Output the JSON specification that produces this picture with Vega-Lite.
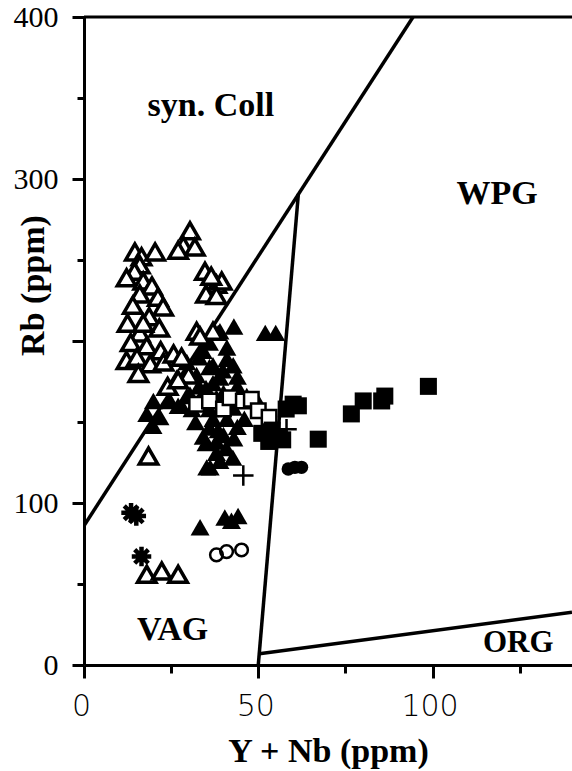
{
  "$schema": "https://vega.github.io/schema/vega-lite/v6.json",
  "width": 488,
  "height": 648,
  "autosize": {"type": "none"},
  "padding": {"left": 84, "top": 17, "right": 0, "bottom": 106},
  "background": "white",
  "view": {"stroke": null},
  "config": {
    "axis": {
      "grid": false,
      "domainColor": "black",
      "domainWidth": 3,
      "tickColor": "black",
      "tickWidth": 3,
      "labelColor": "black",
      "titleColor": "black",
      "labelFlush": false,
      "labelOverlap": false
    }
  },
  "datasets": {
    "pts": [
      {"x": 14.6, "rb": 255, "g": "ot"}, {"x": 16.5, "rb": 252, "g": "ot"}, {"x": 20.4, "rb": 255, "g": "ot"},
      {"x": 16, "rb": 247, "g": "ot"}, {"x": 14.5, "rb": 243, "g": "ot"}, {"x": 12.2, "rb": 239, "g": "ot"},
      {"x": 17, "rb": 237, "g": "ot"}, {"x": 19.5, "rb": 234, "g": "ot"}, {"x": 16, "rb": 229, "g": "ot"},
      {"x": 21.2, "rb": 227, "g": "ot"}, {"x": 22.7, "rb": 221, "g": "ot"}, {"x": 14, "rb": 222, "g": "ot"},
      {"x": 12.5, "rb": 211, "g": "ot"}, {"x": 18.7, "rb": 215, "g": "ot"}, {"x": 21.6, "rb": 208, "g": "ot"},
      {"x": 16, "rb": 205, "g": "ot"}, {"x": 13.4, "rb": 199, "g": "ot"}, {"x": 18, "rb": 197, "g": "ot"},
      {"x": 22, "rb": 194, "g": "ot"}, {"x": 12.2, "rb": 188, "g": "ot"}, {"x": 15.2, "rb": 190, "g": "ot"},
      {"x": 19, "rb": 186, "g": "ot"}, {"x": 15.6, "rb": 180, "g": "ot"}, {"x": 22.8, "rb": 187, "g": "ot"},
      {"x": 25.7, "rb": 192, "g": "ot"}, {"x": 17, "rb": 211, "g": "ot"},
      {"x": 30.4, "rb": 268, "g": "ot"}, {"x": 28.5, "rb": 259, "g": "ot"}, {"x": 31.8, "rb": 258, "g": "ot"},
      {"x": 27, "rb": 256, "g": "ot"},
      {"x": 34.7, "rb": 243, "g": "ot"}, {"x": 38, "rb": 235, "g": "ot"}, {"x": 39.5, "rb": 237, "g": "ot"},
      {"x": 35, "rb": 229, "g": "ot"}, {"x": 38, "rb": 228, "g": "ot"}, {"x": 36.5, "rb": 240, "g": "ot"},
      {"x": 32.3, "rb": 206, "g": "ot"}, {"x": 37, "rb": 206, "g": "ot"}, {"x": 28, "rb": 190, "g": "ot"},
      {"x": 33.3, "rb": 203, "g": "ot"}, {"x": 30, "rb": 179, "g": "ot"}, {"x": 24, "rb": 172, "g": "ot"},
      {"x": 27, "rb": 176, "g": "ot"},
      {"x": 18.5, "rb": 129, "g": "ot"}, {"x": 18, "rb": 56, "g": "ot"}, {"x": 22.3, "rb": 58, "g": "ot"},
      {"x": 27, "rb": 56, "g": "ot"},

      {"x": 39, "rb": 206, "g": "ft"}, {"x": 41, "rb": 196, "g": "ft"}, {"x": 34.2, "rb": 194, "g": "ft"},
      {"x": 37, "rb": 185, "g": "ft"}, {"x": 42.8, "rb": 185, "g": "ft"}, {"x": 29.5, "rb": 187, "g": "ft"},
      {"x": 26.6, "rb": 177.5, "g": "ft"}, {"x": 32.3, "rb": 179, "g": "ft"}, {"x": 39, "rb": 177.5, "g": "ft"},
      {"x": 35, "rb": 171, "g": "ft"}, {"x": 30.4, "rb": 167, "g": "ft"}, {"x": 24.7, "rb": 163, "g": "ft"},
      {"x": 19.9, "rb": 163, "g": "ft"}, {"x": 18, "rb": 155, "g": "ft"}, {"x": 21.8, "rb": 153, "g": "ft"},
      {"x": 38.5, "rb": 205, "g": "ft"}, {"x": 36, "rb": 184, "g": "ft"}, {"x": 39.8, "rb": 182, "g": "ft"},
      {"x": 37, "rb": 174, "g": "ft"}, {"x": 29.5, "rb": 166, "g": "ft"}, {"x": 35.2, "rb": 166, "g": "ft"},
      {"x": 46.7, "rb": 166, "g": "ft"}, {"x": 49.5, "rb": 164, "g": "ft"}, {"x": 42.8, "rb": 159, "g": "ft"},
      {"x": 36, "rb": 146.6, "g": "ft"}, {"x": 34.2, "rb": 141, "g": "ft"}, {"x": 38, "rb": 138, "g": "ft"},
      {"x": 40.8, "rb": 134, "g": "ft"}, {"x": 39, "rb": 126, "g": "ft"}, {"x": 36.2, "rb": 122, "g": "ft"},
      {"x": 42.7, "rb": 128, "g": "ft"}, {"x": 19.8, "rb": 147.6, "g": "ft"}, {"x": 35.2, "rb": 122, "g": "ft"},
      {"x": 38, "rb": 131, "g": "ft"}, {"x": 35, "rb": 137, "g": "ft"}, {"x": 38.5, "rb": 145, "g": "ft"},
      {"x": 33.3, "rb": 85, "g": "ft"}, {"x": 40.4, "rb": 91, "g": "ft"}, {"x": 42.3, "rb": 89, "g": "ft"},
      {"x": 44.2, "rb": 92, "g": "ft"}, {"x": 52, "rb": 205, "g": "ft"}, {"x": 55, "rb": 205, "g": "ft"},
      {"x": 43, "rb": 209, "g": "ft"}, {"x": 33, "rb": 172, "g": "ft"}, {"x": 27, "rb": 160, "g": "ft"},
      {"x": 31, "rb": 158, "g": "ft"}, {"x": 44, "rb": 172, "g": "ft"}, {"x": 40, "rb": 168, "g": "ft"},
      {"x": 36, "rb": 158, "g": "ft"}, {"x": 32, "rb": 150, "g": "ft"}, {"x": 28, "rb": 160, "g": "ft"},
      {"x": 33, "rb": 190, "g": "ft"}, {"x": 36, "rb": 199, "g": "ft"}, {"x": 41, "rb": 189, "g": "ft"},
      {"x": 44, "rb": 178, "g": "ft"}, {"x": 38, "rb": 165, "g": "ft"}, {"x": 41, "rb": 152, "g": "ft"},
      {"x": 37, "rb": 152, "g": "ft"}, {"x": 44, "rb": 147, "g": "ft"}, {"x": 43, "rb": 140, "g": "ft"},
      {"x": 40, "rb": 142, "g": "ft"}, {"x": 46, "rb": 152, "g": "ft"},

      {"x": 32.3, "rb": 161, "g": "os"}, {"x": 36, "rb": 163, "g": "os"}, {"x": 40, "rb": 158, "g": "os"},
      {"x": 41.9, "rb": 165, "g": "os"}, {"x": 45.7, "rb": 163, "g": "os"}, {"x": 48, "rb": 164, "g": "os"},
      {"x": 50, "rb": 157, "g": "os"}, {"x": 53.1, "rb": 153, "g": "os"},

      {"x": 51, "rb": 143, "g": "fs"}, {"x": 54, "rb": 145, "g": "fs"}, {"x": 56, "rb": 141, "g": "fs"},
      {"x": 53, "rb": 138, "g": "fs"}, {"x": 57, "rb": 139, "g": "fs"}, {"x": 58, "rb": 158, "g": "fs"},
      {"x": 60, "rb": 161, "g": "fs"}, {"x": 61.5, "rb": 160, "g": "fs"}, {"x": 67.2, "rb": 139.4, "g": "fs"},
      {"x": 76.7, "rb": 155, "g": "fs"}, {"x": 80.1, "rb": 163, "g": "fs"}, {"x": 85.4, "rb": 163, "g": "fs"},
      {"x": 86.3, "rb": 166, "g": "fs"}, {"x": 98.8, "rb": 172, "g": "fs"},

      {"x": 58.6, "rb": 121, "g": "fc"}, {"x": 60.5, "rb": 122, "g": "fc"}, {"x": 62.4, "rb": 122, "g": "fc"},
      {"x": 38, "rb": 68, "g": "oc"}, {"x": 40.9, "rb": 70, "g": "oc"}, {"x": 45.2, "rb": 71, "g": "oc"},
      {"x": 45.7, "rb": 117, "g": "cr"}, {"x": 58.1, "rb": 145.5, "g": "cr"},
      {"x": 13.5, "rb": 94, "g": "st"}, {"x": 15, "rb": 92, "g": "st"}, {"x": 16.5, "rb": 67, "g": "st"}
    ],
    "bounds": [
      {"seg": "A", "x": 0, "rb": 86}, {"seg": "A", "x": 94.4, "rb": 400},
      {"seg": "B", "x": 50, "rb": 0}, {"seg": "B", "x": 61.5, "rb": 290.8},
      {"seg": "C", "x": 50.3, "rb": 7}, {"seg": "C", "x": 140, "rb": 32.5}
    ],
    "labels": [
      {"label": "syn. Coll", "x": 36.4, "rb": 345},
      {"label": "WPG", "x": 118.5, "rb": 291},
      {"label": "VAG", "x": 25.4, "rb": 21.5}
    ],
    "labels2": [
      {"label": "ORG", "x": 124.6, "rb": 13.4}
    ]
  },
  "encoding": {
    "x": {
      "field": "x", "type": "quantitative",
      "scale": {"domain": [0, 140], "nice": false, "zero": false},
      "axis": {
        "values": [0, 25, 50, 75, 100, 125],
        "labelExpr": "datum.value % 50 === 0 ? datum.label : ''",
        "tickSize": {"condition": {"test": "datum.value % 50 === 0", "value": 13}, "value": 8},
        "labelFont": "DejaVu Sans", "labelFontSize": 30, "labelFontWeight": 300,
        "labelPadding": 13, "labelOffset": -3,
        "title": "Y + Nb (ppm)",
        "titleFont": "Liberation Serif", "titleFontSize": 34, "titleFontWeight": "bold",
        "titleY": 96, "titleBaseline": "alphabetic"
      }
    },
    "y": {
      "field": "rb", "type": "quantitative",
      "scale": {"domain": [0, 400], "nice": false, "zero": false},
      "axis": {
        "values": [0, 50, 100, 150, 200, 250, 300, 350, 400],
        "labelExpr": "(datum.value % 100 === 0 && datum.value !== 200) ? datum.label : ''",
        "tickSize": {"condition": {"test": "datum.value % 100 === 0", "value": 12}, "value": 7},
        "labelFont": "Liberation Serif", "labelFontSize": 30,
        "labelPadding": 14,
        "title": "Rb (ppm)",
        "titleFont": "Liberation Serif", "titleFontSize": 34, "titleFontWeight": "bold",
        "titleX": -51, "titleY": 268, "titleAngle": -90, "titleBaseline": "middle", "titleAlign": "center"
      }
    }
  },
  "layer": [
    {
      "data": {"values": [{"rb": 400}]},
      "mark": {"type": "rule", "color": "black", "strokeWidth": 3},
      "encoding": {"y": {"field": "rb", "type": "quantitative"}, "x": null}
    },
    {
      "data": {"name": "bounds"},
      "mark": {"type": "line", "color": "black", "strokeWidth": 3.5, "clip": true},
      "encoding": {"detail": {"field": "seg"}}
    },
    {
      "data": {"name": "pts"},
      "transform": [{"filter": "datum.g === 'ft'"}],
      "mark": {"type": "point", "shape": "triangle-up", "filled": true, "color": "black", "size": 360, "opacity": 1}
    },
    {
      "data": {"name": "pts"},
      "transform": [{"filter": "datum.g === 'ot'"}],
      "mark": {"type": "point", "shape": "triangle-up", "filled": true, "fill": "white", "stroke": "black", "strokeWidth": 3.5, "size": 340, "opacity": 1}
    },
    {
      "data": {"name": "pts"},
      "transform": [{"filter": "datum.g === 'os'"}],
      "mark": {"type": "point", "shape": "square", "filled": true, "fill": "white", "stroke": "black", "strokeWidth": 2.5, "size": 210, "opacity": 1}
    },
    {
      "data": {"name": "pts"},
      "transform": [{"filter": "datum.g === 'fs'"}],
      "mark": {"type": "point", "shape": "square", "filled": true, "color": "black", "size": 290, "opacity": 1}
    },
    {
      "data": {"name": "pts"},
      "transform": [{"filter": "datum.g === 'fc'"}],
      "mark": {"type": "point", "shape": "circle", "filled": true, "color": "black", "size": 180, "opacity": 1}
    },
    {
      "data": {"name": "pts"},
      "transform": [{"filter": "datum.g === 'oc'"}],
      "mark": {"type": "point", "shape": "circle", "filled": false, "color": "black", "strokeWidth": 2.5, "size": 160, "opacity": 1}
    },
    {
      "data": {"name": "pts"},
      "transform": [{"filter": "datum.g === 'cr'"}],
      "mark": {"type": "point", "shape": "M-1,0L1,0M0,-1L0,1", "filled": false, "color": "black", "strokeWidth": 2.5, "size": 420, "opacity": 1}
    },
    {
      "data": {"name": "pts"},
      "transform": [{"filter": "datum.g === 'st'"}],
      "mark": {"type": "point", "shape": "M-1,0L1,0M0,-1L0,1M-0.7,-0.7L0.7,0.7M-0.7,0.7L0.7,-0.7", "filled": false, "color": "black", "strokeWidth": 4.5, "size": 380, "opacity": 1}
    },
    {
      "data": {"name": "labels"},
      "mark": {"type": "text", "font": "Liberation Serif", "fontWeight": "bold", "fontSize": 34, "color": "black", "align": "center", "baseline": "middle"},
      "encoding": {"text": {"field": "label"}}
    },
    {
      "data": {"name": "labels2"},
      "mark": {"type": "text", "font": "Liberation Serif", "fontWeight": "bold", "fontSize": 31, "color": "black", "align": "center", "baseline": "middle"},
      "encoding": {"text": {"field": "label"}}
    }
  ]
}
